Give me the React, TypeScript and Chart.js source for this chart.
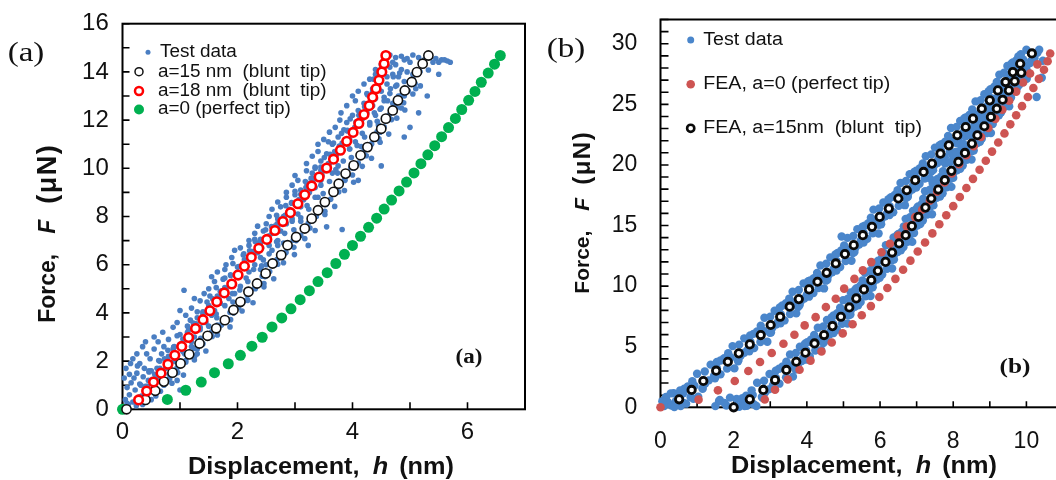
import React, { useEffect, useRef } from "react";
import { Chart, registerables } from "chart.js";

Chart.register(...registerables);

const FONT = "'Liberation Sans', Arial, Helvetica, sans-serif";
const SERIF = "'Liberation Serif', 'Times New Roman', serif";

// ---------------- Panel (a) ----------------
const xTickLabelsA = [0, 2, 4, 6];
const yTickLabelsA = [0, 2, 4, 6, 8, 10, 12, 14, 16];

const testDataA: number[][] = [
  [0.02,0.1],[0.05,0.4],[0.08,0.9],[0.03,1.3],[0.06,1.7],[0.12,0.6],[0.15,1.1],[0.18,0.3],[0.22,0.8],[0.25,1.5],[0.28,0.5],[0.1,0.2],[0.32,1.0],[0.35,0.2],[0.4,0.7],[0.14,1.9],[0.2,1.3],[0.45,1.2],[0.5,0.4],[0.38,1.7],[0.55,0.9],
  [0.3,1.9],[0.42,2.3],[0.5,1.6],[0.6,1.3],[0.65,2.0],[0.7,1.1],[0.55,2.5],[0.75,1.7],[0.8,2.2],[0.62,2.8],[0.85,1.4],[0.9,2.0],[0.48,2.1],[0.72,2.6],[0.95,1.2],[1.0,0.8],[0.35,2.6],
  [0.08,0.25],[0.12,1.45],[0.18,2.1],[0.24,0.15],[0.26,1.8],[0.33,0.55],[0.36,1.35],[0.43,0.95],[0.46,1.6],[0.52,1.25],[0.58,0.55],[0.6,1.7],[0.66,0.75],[0.68,2.3],[0.78,1.2],[0.82,1.95],[0.88,2.5],[0.25,2.3],[0.4,2.8],[0.55,3.0],
  [0.8,2.9],[0.9,2.6],[1.0,3.1],[1.05,2.4],[1.1,2.9],[0.88,3.4],[1.15,3.3],[1.2,2.6],[0.95,3.6],[1.25,3.0],[1.3,2.3],[0.7,3.2],[1.18,3.7],[1.35,3.4],
  [1.1,3.9],[1.2,4.2],[1.3,3.8],[1.35,4.5],[1.4,4.0],[1.45,3.6],[1.5,4.3],[1.55,3.9],[1.25,4.6],[1.6,4.1],[1.42,4.8],[1.65,3.5],[1.0,4.1],[1.7,4.4],[1.52,4.7],[1.07,4.94],
  [1.5,5.0],[1.6,5.3],[1.7,4.9],[1.75,5.4],[1.8,5.0],[1.85,4.6],[1.65,5.7],[1.9,5.3],[1.95,4.8],[1.78,5.8],[2.0,5.6],[2.05,5.1],[1.55,5.5],[2.1,4.5],
  [1.8,6.0],[1.9,6.3],[2.0,5.9],[2.1,6.4],[2.15,6.0],[2.2,5.7],[2.25,6.3],[2.05,6.7],[2.3,6.0],[2.35,6.5],[2.4,5.8],[2.45,6.2],[2.2,6.8],[1.95,6.6],[2.5,6.0],[2.31,6.95],
  [2.2,7.0],[2.3,7.3],[2.4,6.9],[2.45,7.4],[2.5,7.1],[2.55,6.8],[2.6,7.3],[2.5,7.7],[2.65,7.6],[2.7,7.0],[2.35,7.6],[2.75,7.4],[2.6,6.6],[2.8,6.9],[3.23,6.8],
  [2.55,8.0],[2.6,8.3],[2.7,7.9],[2.75,8.4],[2.8,8.0],[2.85,7.7],[2.9,8.3],[2.95,7.9],[2.7,8.6],[3.0,8.5],[3.05,8.1],[2.85,8.8],[3.1,7.8],[3.55,7.57],[3.82,7.46],
  [2.85,9.0],[2.95,9.3],[3.0,8.9],[3.05,9.5],[3.1,9.1],[3.15,8.7],[3.2,9.4],[3.25,9.0],[3.0,9.7],[3.3,9.6],[3.35,9.2],[3.4,8.8],[3.2,9.9],[3.45,9.5],[3.1,8.4],
  [3.2,10.2],[3.3,10.5],[3.35,10.0],[3.4,10.7],[3.45,10.3],[3.5,9.9],[3.55,10.6],[3.6,10.2],[3.65,9.8],[3.4,11.0],[3.7,10.5],[3.75,10.1],[3.3,9.8],[3.8,10.8],[3.58,11.1],[4.5,10.1],[4.1,9.5],
  [3.5,11.2],[3.6,11.5],[3.65,11.0],[3.7,11.7],[3.75,11.3],[3.8,10.9],[3.85,11.6],[3.9,11.2],[3.95,10.8],[4.0,11.5],[4.05,11.1],[3.78,12.0],[4.1,11.8],[4.15,10.9],[3.9,11.9],
  [3.8,12.3],[3.9,12.6],[4.0,12.2],[4.05,12.8],[4.1,12.4],[4.15,12.0],[4.2,12.7],[4.25,12.3],[4.3,11.9],[4.35,12.6],[4.0,13.0],[4.4,12.2],[4.45,11.8],[4.5,12.5],[4.6,12.0],
  [4.1,13.2],[4.2,13.5],[4.25,13.1],[4.3,13.7],[4.35,13.3],[4.4,12.9],[4.45,13.6],[4.5,13.2],[4.55,12.8],[4.6,13.5],[4.65,13.1],[4.7,12.7],[4.75,13.4],[4.8,13.0],[4.4,13.9],[4.85,12.5],
  [4.4,14.1],[4.5,14.3],[4.55,14.0],[4.6,13.8],[4.65,14.2],[4.7,13.9],[4.75,14.3],[4.8,13.8],[4.85,14.1],[4.9,13.6],[4.95,14.0],[5.0,13.5],[5.05,13.9],[5.1,13.3],[4.7,14.4],
  [4.55,14.6],[4.65,14.7],[4.75,14.6],[4.85,14.65],[4.95,14.55],[5.05,14.7],[5.15,14.6],[5.25,14.5],[5.35,14.6],[5.45,14.55],[5.55,14.5],[5.65,14.45],[5.7,14.4],[5.0,14.4],[5.2,14.35],[5.4,14.4],[5.6,14.5],[4.9,14.5],[5.3,14.7],[5.5,14.4],
  [5.0,11.7],[4.9,11.3],[5.15,12.3],[5.5,13.9],[5.3,13.0],
  [0.53,1.2],[0.68,1.3],[0.82,1.27],[0.66,1.55],[0.81,1.45],[0.96,1.52],[0.65,1.7],[0.81,1.8],[0.95,1.72],
  [0.78,2.05],[0.94,1.95],[1.1,2.02],[0.91,2.2],[1.08,2.3],[1.26,2.22],[0.89,2.55],[1.05,2.45],[1.25,2.52],
  [1.0,2.7],[1.2,2.8],[1.4,2.72],[1.16,3.05],[1.36,2.95],[1.56,3.02],[1.13,3.2],[1.35,3.3],[1.55,3.22],
  [1.28,3.55],[1.5,3.45],[1.72,3.52],[1.42,3.7],[1.64,3.8],[1.88,3.72],[1.4,4.05],[1.63,3.95],[1.87,4.02],
  [1.52,4.2],[1.78,4.3],[2.02,4.22],[1.68,4.55],[1.92,4.45],[2.18,4.52],[1.65,4.7],[1.91,4.8],[2.17,4.72],
  [1.78,5.05],[2.04,4.95],[2.3,5.02],[1.91,5.2],[2.18,5.3],[2.46,5.22],[1.88,5.55],[2.15,5.45],[2.43,5.52],
  [2.0,5.7],[2.28,5.8],[2.56,5.72],[2.14,6.05],[2.42,5.95],[2.7,6.02],[2.12,6.2],[2.4,6.3],[2.69,6.22],
  [2.26,6.55],[2.55,6.45],[2.84,6.52],[2.42,6.7],[2.7,6.8],[2.98,6.72],[2.4,7.05],[2.68,6.95],[2.97,7.02],
  [2.55,7.2],[2.82,7.3],[3.1,7.22],[2.7,7.55],[2.98,7.45],[3.26,7.52],[2.69,7.7],[2.95,7.8],[3.23,7.72],
  [2.83,8.05],[3.1,7.95],[3.37,8.02],[2.96,8.2],[3.24,8.3],[3.52,8.22],[2.94,8.55],[3.21,8.45],[3.49,8.52],
  [3.07,8.7],[3.35,8.8],[3.62,8.72],[3.21,9.05],[3.49,8.95],[3.76,9.02],[3.19,9.2],[3.45,9.3],[3.73,9.22],
  [3.33,9.55],[3.6,9.45],[3.86,9.52],[3.47,9.7],[3.74,9.8],[4.0,9.72],[3.45,10.05],[3.71,9.95],[3.97,10.02],
  [3.58,10.2],[3.84,10.3],[4.1,10.22],[3.72,10.55],[3.98,10.45],[4.24,10.52],[3.69,10.7],[3.95,10.8],[4.2,10.72],
  [3.82,11.05],[4.08,10.95],[4.33,11.02],[3.95,11.2],[4.21,11.3],[4.46,11.22],[3.91,11.55],[4.17,11.45],[4.43,11.52],
  [4.04,11.7],[4.3,11.8],[4.55,11.72],[4.17,12.05],[4.43,11.95],[4.68,12.02],[4.11,12.2],[4.38,12.3],[4.64,12.22],
  [4.21,12.55],[4.48,12.45],[4.76,12.52],[4.32,12.7],[4.61,12.8],[4.89,12.72],[4.26,13.05],[4.55,12.95],[4.85,13.02],
  [4.35,13.2],[4.66,13.3],[4.97,13.22],[4.45,13.55],[4.77,13.45],[5.09,13.52],[4.37,13.7],[4.71,13.8],[5.05,13.72],
  [4.46,14.05],[4.82,13.95],[5.17,14.02],
  [0.3,1.05],[0.4,0.95],[0.72,1.0],[0.86,1.08],[0.46,1.55],[0.56,1.45],[0.92,1.5],[1.06,1.42],
  [0.63,2.02],[0.73,2.1],[1.1,1.95],[1.25,2.05],[0.79,2.45],[0.89,2.58],[1.3,2.5],[1.45,2.42],
  [0.95,3.05],[1.05,2.92],[1.5,3.0],[1.65,3.08],[1.13,3.45],[1.23,3.58],[1.72,3.5],[1.87,3.42],
  [1.3,4.05],[1.4,3.92],[1.93,4.0],[2.08,4.08],[1.47,4.45],[1.57,4.58],[2.12,4.5],[2.27,4.42],
  [1.63,5.05],[1.73,4.92],[2.31,5.0],[2.46,5.08],[1.78,5.45],[1.88,5.58],[2.48,5.5],[2.63,5.42],
  [1.92,6.05],[2.02,5.92],[2.65,6.0],[2.8,6.08],[2.11,6.45],[2.21,6.58],[2.84,6.5],[2.99,6.42],
  [2.3,7.05],[2.4,6.92],[3.02,7.0],[3.17,7.08],[2.49,7.45],[2.59,7.58],[3.2,7.5],[3.35,7.42],
  [2.68,8.05],[2.78,7.92],[3.37,8.0],[3.52,8.08],[2.84,8.45],[2.94,8.58],[3.54,8.5],[3.69,8.42],
  [3.0,9.05],[3.1,8.92],[3.71,9.0],[3.86,9.08],[3.18,9.45],[3.28,9.58],[3.87,9.5],[4.02,9.42],
  [3.35,10.05],[3.45,9.92],[4.02,10.0],[4.17,10.08],[3.51,10.45],[3.61,10.58],[4.18,10.5],[4.33,10.42],
  [3.67,11.05],[3.77,10.92],[4.33,11.0],[4.48,11.08],[3.81,11.45],[3.91,11.58],[4.48,11.5],[4.63,11.42],
  [3.96,12.05],[4.06,11.92],[4.62,12.0],[4.77,12.08],[4.76,12.5],[4.91,12.42],
  [4.9,13.0],[5.05,13.08],[5.03,13.5],[5.18,13.42],[5.17,14.0],[5.32,14.08]
];

const blunt15A: number[][] = [
  [0.07,0],[0.4,0.39],[0.57,0.77],[0.72,1.15],[0.87,1.52],[1.01,1.9],[1.16,2.28],[1.34,2.73],[1.48,3.05],[1.63,3.36],[1.78,3.7],[1.93,4.12],[2.05,4.46],[2.19,4.88],[2.34,5.22],[2.49,5.64],[2.61,6.05],[2.76,6.4],[2.87,6.81],[3.02,7.15],[3.17,7.5],[3.29,7.91],[3.4,8.26],[3.52,8.6],[3.67,9.02],[3.76,9.36],[3.88,9.78],[4.02,10.12],[4.14,10.54],[4.26,10.88],[4.38,11.3],[4.5,11.64],[4.58,12.06],[4.7,12.4],[4.79,12.82],[4.91,13.23],[5.03,13.58],[5.12,13.99],[5.22,14.34],[5.32,14.68]
];

const blunt18A: number[][] = [
  [0.28,0.39],[0.42,0.76],[0.54,1.13],[0.67,1.5],[0.79,1.87],[0.91,2.24],[1.03,2.61],[1.15,2.98],[1.27,3.35],[1.4,3.72],[1.52,4.09],[1.64,4.46],[1.77,4.83],[1.9,5.2],[2.01,5.57],[2.12,5.94],[2.24,6.31],[2.37,6.68],[2.51,7.05],[2.65,7.42],[2.79,7.79],[2.92,8.16],[3.05,8.53],[3.17,8.9],[3.29,9.27],[3.42,9.64],[3.55,10.01],[3.67,10.38],[3.79,10.75],[3.9,11.12],[4.01,11.49],[4.11,11.86],[4.2,12.23],[4.29,12.6],[4.35,12.95],[4.41,13.3],[4.46,13.65],[4.51,14.0],[4.55,14.34],[4.58,14.68]
];

const perfectTipA: number[][] = [
  [0,0],[0.78,0.41],[1.1,0.79],[1.37,1.13],[1.6,1.52],[1.84,1.89],[2.05,2.24],[2.25,2.62],[2.43,2.99],[2.6,3.42],[2.77,3.79],[2.93,4.17],[3.09,4.55],[3.25,4.92],[3.4,5.3],[3.56,5.67],[3.71,6.05],[3.86,6.43],[4.0,6.8],[4.14,7.18],[4.28,7.55],[4.42,7.93],[4.55,8.31],[4.68,8.68],[4.81,9.06],[4.94,9.43],[5.07,9.81],[5.19,10.19],[5.31,10.56],[5.43,10.94],[5.55,11.31],[5.67,11.69],[5.79,12.07],[5.9,12.44],[6.02,12.82],[6.13,13.19],[6.24,13.57],[6.36,13.95],[6.47,14.32],[6.57,14.68]
];

// ---------------- Panel (b) ----------------
const xTickLabelsB = [0, 2, 4, 6, 8, 10];
const yTickLabelsB = [0, 5, 10, 15, 20, 25, 30];

const testLoadingB: number[][] = [
  [0.36,1.16],[0.63,0.36],[0.53,0.86],[0.45,0.21],[1.03,0.88],[0.75,1.73],[0.93,1.78],[0.65,1.53],
  [1.22,1.97],[1.0,2.77],[1.32,2.22],[1.15,1.52],[1.37,3.52],[1.64,2.72],[1.54,3.22],[1.46,2.57],
  [2.02,3.21],[1.74,4.06],[1.92,4.11],[1.64,3.86],[2.19,4.25],[1.97,5.05],[2.29,4.5],[2.12,3.8],
  [2.29,5.69],[2.56,4.89],[2.46,5.39],[2.38,4.74],[2.92,5.41],[2.64,6.26],[2.82,6.31],[2.54,6.06],
  [3.06,6.59],[2.84,7.39],[3.16,6.84],[2.99,6.14],[3.12,7.97],[3.39,7.17],[3.29,7.67],[3.21,7.02],
  [3.71,7.75],[3.43,8.6],[3.61,8.65],[3.33,8.4],[3.83,8.73],[3.61,9.53],[3.93,8.98],[3.76,8.28],
  [3.91,10.23],[4.18,9.43],[4.08,9.93],[4.0,9.28],[4.47,9.81],[4.19,10.66],[4.37,10.71],[4.09,10.46],
  [4.59,10.9],[4.37,11.7],[4.69,11.15],[4.52,10.45],[4.64,12.37],[4.91,11.57],[4.81,12.07],[4.73,11.42],
  [5.22,12.09],[4.94,12.94],[5.12,12.99],[4.84,12.74],[5.33,13.18],[5.11,13.98],[5.43,13.43],[5.26,12.73],
  [5.38,14.7],[5.65,13.9],[5.55,14.4],[5.47,13.75],[5.96,14.34],[5.68,15.19],[5.86,15.24],[5.58,14.99],
  [6.04,15.51],[5.82,16.31],[6.14,15.76],[5.97,15.06],[6.09,16.9],[6.36,16.1],[6.26,16.6],[6.18,15.95],
  [6.68,16.68],[6.4,17.53],[6.58,17.58],[6.3,17.33],[6.78,17.71],[6.56,18.51],[6.88,17.96],[6.71,17.26],
  [6.81,19.24],[7.08,18.44],[6.98,18.94],[6.9,18.29],[7.37,18.87],[7.09,19.72],[7.27,19.77],[6.99,19.52],
  [7.47,19.91],[7.25,20.71],[7.57,20.16],[7.4,19.46],[7.5,21.43],[7.77,20.63],[7.67,21.13],[7.59,20.48],
  [8.06,21.07],[7.78,21.92],[7.96,21.97],[7.68,21.72],[8.16,22.25],[7.94,23.05],[8.26,22.5],[8.09,21.8],
  [8.19,23.63],[8.46,22.83],[8.36,23.33],[8.28,22.68],[8.72,23.27],[8.44,24.12],[8.62,24.17],[8.34,23.92],
  [8.83,24.44],[8.61,25.24],[8.93,24.69],[8.76,23.99],[8.85,25.83],[9.12,25.03],[9.02,25.53],[8.94,24.88],
  [9.4,25.6],[9.12,26.45],[9.3,26.5],[9.02,26.25],[9.48,26.64],[9.26,27.44],[9.58,26.89],[9.41,26.19],
  [9.48,28.16],[9.75,27.36],[9.65,27.86],[9.57,27.21],[10.01,27.8],[9.73,28.65],[9.91,28.7],[9.63,28.45],
  [10.2,29.0],[10.0,29.5],[10.3,29.25],[10.13,28.55],
  [0.82,0.85],[0.54,1.4],[1.15,1.6],[0.87,2.15],[1.49,2.4],[1.21,2.95],[1.82,3.19],[1.54,3.74],[2.13,3.91],[1.85,4.46],
  [2.43,4.62],[2.15,5.17],[2.73,5.38],[2.45,5.93],[3.02,6.18],[2.74,6.73],[3.28,6.93],[3.0,7.48],[3.54,7.69],[3.26,8.24],
  [3.8,8.42],[3.52,8.97],[4.06,9.13],[3.78,9.68],[4.32,9.85],[4.04,10.4],[4.56,10.53],[4.28,11.08],[4.81,11.29],[4.53,11.84],
  [5.06,12.06],[4.78,12.61],[5.3,12.81],[5.02,13.36],[5.55,13.59],[5.27,14.14],[5.8,14.35],[5.52,14.9],[6.03,15.1],[5.75,15.65],
  [6.26,15.86],[5.98,16.41],[6.51,16.62],[6.23,17.17],[6.76,17.37],[6.48,17.92],[6.99,18.13],[6.71,18.68],[7.22,18.88],[6.94,19.43],
  [7.45,19.57],[7.17,20.12],[7.68,20.32],[7.4,20.87],[7.91,21.08],[7.63,21.63],[8.14,21.84],[7.86,22.39],[8.37,22.59],[8.09,23.14],
  [8.58,23.28],[8.3,23.83],[8.8,24.03],[8.52,24.58],[9.03,24.79],[8.75,25.34],[9.25,25.54],[8.97,26.09],[9.47,26.3],[9.19,26.85],
  [9.67,27.05],[9.39,27.6],[9.87,27.81],[9.59,28.36],[10.13,28.58],[9.85,29.13]
];

const testUnloadingB: number[][] = [
  [1.8,0.15],[2.15,0.05],[1.6,0.5],[2.25,0.35],[2.62,0.11],[2.34,0.96],[2.52,1.01],[2.24,0.76],
  [2.86,1.23],[2.64,2.03],[2.96,1.48],[2.79,0.78],[2.98,2.75],[3.25,1.95],[3.15,2.45],[3.07,1.8],
  [3.62,2.53],[3.34,3.38],[3.52,3.43],[3.24,3.18],[3.76,3.56],[3.54,4.36],[3.86,3.81],[3.69,3.11],
  [3.81,5.0],[4.08,4.2],[3.98,4.7],[3.9,4.05],[4.39,4.72],[4.11,5.57],[4.29,5.62],[4.01,5.37],
  [4.52,5.76],[4.3,6.56],[4.62,6.01],[4.45,5.31],[4.55,7.2],[4.82,6.4],[4.72,6.9],[4.64,6.25],
  [5.11,6.92],[4.83,7.77],[5.01,7.82],[4.73,7.57],[5.21,8.04],[4.99,8.84],[5.31,8.29],[5.14,7.59],
  [5.2,9.48],[5.47,8.68],[5.37,9.18],[5.29,8.53],[5.74,9.18],[5.46,10.03],[5.64,10.08],[5.36,9.83],
  [5.81,10.29],[5.59,11.09],[5.91,10.54],[5.74,9.84],[5.79,11.76],[6.06,10.96],[5.96,11.46],[5.88,10.81],
  [6.33,11.45],[6.05,12.3],[6.23,12.35],[5.95,12.1],[6.38,12.57],[6.16,13.37],[6.48,12.82],[6.31,12.12],
  [6.37,14.02],[6.64,13.22],[6.54,13.72],[6.46,13.07],[6.88,13.65],[6.6,14.5],[6.78,14.55],[6.5,14.3],
  [6.92,14.75],[6.7,15.55],[7.02,15.0],[6.85,14.3],[6.9,16.21],[7.17,15.41],[7.07,15.91],[6.99,15.26],
  [7.42,15.93],[7.14,16.78],[7.32,16.83],[7.04,16.58],[7.45,17.03],[7.23,17.83],[7.55,17.28],[7.38,16.58],
  [7.44,18.47],[7.71,17.67],[7.61,18.17],[7.53,17.52],[7.95,18.19],[7.67,19.04],[7.85,19.09],[7.57,18.84],
  [8.0,19.31],[7.78,20.11],[8.1,19.56],[7.93,18.86],[7.99,20.75],[8.26,19.95],[8.16,20.45],[8.08,19.8],
  [8.5,20.44],[8.22,21.29],[8.4,21.34],[8.12,21.09],[8.56,21.56],[8.34,22.36],[8.66,21.81],[8.49,21.11],
  [8.51,22.95],[8.78,22.15],[8.68,22.65],[8.6,22.0],[9.03,22.64],[8.75,23.49],[8.93,23.54],[8.65,23.29],
  [9.08,23.76],[8.86,24.56],[9.18,24.01],[9.01,23.31],[9.04,25.14],[9.31,24.34],[9.21,24.84],[9.13,24.19],
  [9.53,24.83],[9.25,25.68],[9.43,25.73],[9.15,25.48],[9.57,25.95],[9.35,26.75],[9.67,26.2],[9.5,25.5],
  [9.53,27.4],[9.8,26.6],[9.7,27.1],[9.62,26.45],[10.01,27.11],[9.73,27.96],[9.91,28.01],[9.63,27.76],
  [10.0,28.15],[9.78,28.95],[10.1,28.4],[9.93,27.7],
  [2.36,0.13],[2.08,0.68],[2.77,0.85],[2.49,1.4],[3.11,1.64],[2.83,2.19],[3.43,2.47],[3.15,3.02],[3.72,3.22],[3.44,3.77],
  [3.98,3.93],[3.7,4.48],[4.23,4.69],[3.95,5.24],[4.48,5.42],[4.2,5.97],[4.73,6.13],[4.45,6.68],[4.96,6.89],[4.68,7.44],
  [5.19,7.66],[4.91,8.21],[5.4,8.41],[5.12,8.96],[5.6,9.16],[5.32,9.71],[5.8,9.91],[5.52,10.46],[5.99,10.68],[5.71,11.23],
  [6.19,11.43],[5.91,11.98],[6.38,12.19],[6.1,12.74],[6.57,12.95],[6.29,13.5],[6.75,13.66],[6.47,14.21],[6.93,14.38],[6.65,14.93],
  [7.1,15.13],[6.82,15.68],[7.29,15.9],[7.01,16.45],[7.46,16.66],[7.18,17.21],[7.64,17.4],[7.36,17.95],[7.82,18.16],[7.54,18.71],
  [8.0,18.93],[7.72,19.48],[8.19,19.68],[7.91,20.23],[8.37,20.42],[8.09,20.97],[8.56,21.18],[8.28,21.73],[8.73,21.91],[8.45,22.46],
  [8.9,22.62],[8.62,23.17],[9.08,23.38],[8.8,23.93],[9.25,24.1],[8.97,24.65],[9.41,24.81],[9.13,25.36],[9.58,25.57],[9.3,26.12],
  [9.74,26.33],[9.46,26.88],[9.9,27.08],[9.62,27.63]
];

const testExtraB: number[][] = [
  [0.1,0.1],[0.2,0.45],[0.3,0.15],[0.15,0.85],[0.42,0.5],[0.28,1.15],[0.55,0.1],[0.7,0.3],[0.05,0.5],[0.38,0.02],[0.62,1.15],[0.9,0.7],
  [1.5,0.1],[1.62,0.6],[1.75,0.35],[1.9,0.8],[2.3,0.1],[2.55,0.25],
  [10.28,25.6],[10.42,27.2],[10.45,28.6],[10.35,29.5],[10.22,28.8],[4.95,14.1]
];

const blunt15B: number[][] = [
  [0.51,0.66],[0.85,1.43],[1.17,2.17],[1.52,3.02],[1.84,3.76],[2.14,4.45],[2.44,5.19],[2.74,5.96],[3.01,6.79],[3.27,7.47],[3.53,8.3],[3.78,8.93],[4.06,9.73],[4.29,10.36],[4.54,11.1],[4.79,11.87],[5.04,12.64],[5.28,13.38],[5.53,14.2],[5.78,14.89],[5.99,15.71],[6.24,16.4],[6.5,17.23],[6.73,17.91],[6.96,18.74],[7.19,19.42],[7.42,20.11],[7.65,20.93],[7.88,21.62],[8.11,22.45],[8.34,23.13],[8.54,23.82],[8.78,24.64],[9.0,25.33],[9.22,26.15],[9.43,26.84],[9.63,27.66],[9.83,28.35],[10.15,29.2],
  [2.0,0],[2.44,0.66],[2.81,1.43],[3.13,2.25],[3.44,3.08],[3.71,3.76],[3.96,4.5],[4.21,5.27],[4.47,5.96],[4.7,6.7],[4.93,7.47],[5.16,8.24],[5.35,8.98],[5.56,9.73],[5.76,10.49],[5.94,11.26],[6.15,12.0],[6.33,12.77],[6.52,13.52],[6.7,14.2],[6.87,14.95],[7.05,15.71],[7.24,16.48],[7.4,17.23],[7.59,17.97],[7.77,18.74],[7.95,19.51],[8.14,20.25],[8.32,20.99],[8.51,21.76],[8.66,22.45],[8.85,23.19],[9.03,23.96],[9.19,24.64],[9.35,25.38],[9.52,26.15],[9.68,26.9],[9.86,27.6]
];

const perfectTipB: number[][] = [
  [0,0],[1.04,0.63],[1.57,1.4],[2.03,2.17],[2.4,3.0],[2.72,3.74],[3.04,4.48],[3.36,5.25],[3.66,5.99],[3.94,6.76],[4.24,7.44],[4.52,8.27],[4.79,8.96],[5.02,9.79],[5.3,10.6],[5.53,11.3],[5.76,11.98],[6.04,12.8],[6.27,13.5],[6.5,14.18],[6.73,14.92],[6.96,15.69],[7.15,16.3],[7.36,17.05],[7.56,17.8],[7.76,18.55],[7.96,19.3],[8.16,20.05],[8.36,20.8],[8.56,21.55],[8.76,22.3],[8.96,23.05],[9.15,23.8],[9.34,24.55],[9.53,25.3],[9.72,26.05],[9.91,26.8],[10.1,27.55],[10.3,28.3],[10.65,29.2],
  [2.85,0.65],[3.13,1.45],[3.48,2.3],[3.8,3.1],[4.1,3.85],[4.4,4.6],[4.68,5.35],[4.98,6.1],[5.25,6.85],[5.5,7.6],[5.75,8.35],[5.98,9.1],[6.2,9.85],[6.42,10.6],[6.63,11.35],[6.83,12.1],[7.03,12.85],[7.23,13.6],[7.43,14.35],[7.62,15.1],[7.81,15.85],[8.0,16.6],[8.18,17.35],[8.36,18.1],[8.54,18.85],[8.72,19.6],[8.89,20.35],[9.06,21.1],[9.23,21.85],[9.4,22.6],[9.56,23.35],[9.72,24.1],[9.88,24.85],[10.04,25.6],[10.19,26.35],[10.34,27.1],[10.48,27.85],[10.58,28.55]
];

// ---------------- helpers ----------------
const toXY = (arr: number[][]) => arr.map(([x, y]) => ({ x, y }));

type Seg = { t?: string; font?: string; gap?: number; ls?: number };

function segWidth(ctx: CanvasRenderingContext2D, s: Seg) {
  if (!s.t) return s.gap || 0;
  ctx.font = s.font as string;
  if (!s.ls) return ctx.measureText(s.t).width;
  let w = 0;
  for (const ch of s.t) w += ctx.measureText(ch).width;
  return w + s.ls * (Array.from(s.t).length - 1);
}

function drawRich(ctx: CanvasRenderingContext2D, segs: Seg[], cx: number, cy: number, rot: number, sx: number) {
  ctx.save();
  ctx.translate(cx, cy);
  ctx.rotate(rot);
  ctx.scale(sx, 1);
  ctx.fillStyle = "#111";
  ctx.textBaseline = "middle";
  ctx.textAlign = "left";
  const ws = segs.map((s) => segWidth(ctx, s));
  const total = ws.reduce((a, b) => a + b, 0);
  let x = -total / 2;
  segs.forEach((s, i) => {
    if (s.t) {
      ctx.font = s.font as string;
      if (s.ls) {
        for (const ch of s.t) {
          ctx.fillText(ch, x, 0);
          x += ctx.measureText(ch).width + s.ls;
        }
        x -= s.ls;
      } else {
        ctx.fillText(s.t, x, 0);
        x += ws[i];
      }
    } else {
      x += ws[i];
    }
  });
  ctx.restore();
}

type LegendItem = { label: string; ring: boolean; r: number; fill: string; stroke?: string; lw?: number; mx: number; y: number };

function drawText(ctx: CanvasRenderingContext2D, text: string, x: number, y: number, font: string, sx: number, align: CanvasTextAlign) {
  ctx.save();
  ctx.translate(x, y);
  ctx.scale(sx, 1);
  ctx.font = font;
  ctx.fillStyle = "#111";
  ctx.textAlign = align;
  ctx.textBaseline = "middle";
  ctx.fillText(text, 0, 0);
  ctx.restore();
}

function framePlugin(tickLenX: number, tickLenY: number) {
  return {
    id: "frame",
    beforeDatasetsDraw(chart: any) {
      const { ctx, chartArea: ca, scales } = chart;
      const xs = scales.x;
      const ys = scales.y;
      ctx.save();
      ctx.strokeStyle = "#000";
      ctx.lineWidth = 1.6;
      ctx.beginPath();
      xs.ticks.forEach((t: any) => {
        const p = xs.getPixelForValue(t.value);
        ctx.moveTo(p, ca.bottom);
        ctx.lineTo(p, ca.bottom - tickLenX);
      });
      ys.ticks.forEach((t: any) => {
        const p = ys.getPixelForValue(t.value);
        ctx.moveTo(ca.left, p);
        ctx.lineTo(ca.left + tickLenY, p);
      });
      ctx.stroke();
      ctx.lineWidth = 2;
      ctx.strokeRect(ca.left, ca.top, ca.right - ca.left, ca.bottom - ca.top);
      ctx.restore();
    },
  };
}

function decorPlugin(spec: {
  yTitle: Seg[]; yTitlePos: number[];
  xTitle: Seg[]; xTitlePos: number[]; xTitleSx: number;
  outer: string; outerPos: number[]; outerFont: string;
  inner: string; innerPos: number[]; innerFont: string;
  legend: LegendItem[]; legendTextX: number[]; legendFont: string; legendSx: number;
}) {
  return {
    id: "decor",
    afterDraw(chart: any) {
      const ctx: CanvasRenderingContext2D = chart.ctx;
      drawRich(ctx, spec.yTitle, spec.yTitlePos[0], spec.yTitlePos[1], -Math.PI / 2, 1);
      drawRich(ctx, spec.xTitle, spec.xTitlePos[0], spec.xTitlePos[1], 0, spec.xTitleSx);
      drawText(ctx, spec.outer, spec.outerPos[0], spec.outerPos[1], spec.outerFont, 1.18, "center");
      drawText(ctx, spec.inner, spec.innerPos[0], spec.innerPos[1], spec.innerFont, 1.15, "center");
      spec.legend.forEach((it, i) => {
        ctx.save();
        ctx.beginPath();
        ctx.arc(it.mx, it.y, it.r, 0, Math.PI * 2);
        ctx.fillStyle = it.fill;
        ctx.fill();
        if (it.ring) {
          ctx.strokeStyle = it.stroke as string;
          ctx.lineWidth = it.lw as number;
          ctx.stroke();
        }
        ctx.restore();
        drawText(ctx, it.label, spec.legendTextX[i], it.y, spec.legendFont, spec.legendSx, "left");
      });
    },
  };
}

function axisOpts(min: number, max: number, labels: number[], fontSize: number, padding: number, horizontal: boolean, size: number) {
  return {
    type: "linear",
    min,
    max,
    afterFit: (s: any) => {
      if (horizontal) s.height = size;
      else s.width = size;
      s.paddingLeft = 0;
      s.paddingRight = 0;
      s.paddingTop = 0;
      s.paddingBottom = 0;
    },
    grid: { display: false, drawTicks: false },
    border: { display: false },
    ticks: {
      stepSize: 1,
      autoSkip: false,
      maxRotation: 0,
      padding,
      color: "#111",
      font: { family: FONT, size: fontSize },
      callback: (v: number) => (labels.includes(v) ? String(v) : ""),
    },
  };
}

function configA(): any {
  return {
    type: "scatter",
    data: {
      datasets: [
        { label: "Test data", data: toXY(testDataA), pointRadius: 2.8, pointBackgroundColor: "#4A7EC2", pointBorderWidth: 0, order: 10, clip: false },
        { label: "a=0 (perfect tip)", data: toXY(perfectTipA), pointRadius: 5.5, pointBackgroundColor: "#00B050", pointBorderWidth: 0, order: 3, clip: false },
        { label: "a=15 nm (blunt tip)", data: toXY(blunt15A), pointRadius: 4.6, pointBackgroundColor: "#ffffff", pointBorderColor: "#111", pointBorderWidth: 1.6, order: 2, clip: false },
        { label: "a=18 nm (blunt tip)", data: toXY(blunt18A), pointRadius: 4.3, pointBackgroundColor: "#ffffff", pointBorderColor: "#FF0000", pointBorderWidth: 2.6, order: 1, clip: false },
      ],
    },
    options: {
      responsive: false,
      animation: false,
      devicePixelRatio: 1,
      events: [],
      layout: { padding: { left: 0, top: 23.7, right: 15, bottom: 0 } },
      plugins: { legend: { display: false }, tooltip: { enabled: false } },
      scales: {
        x: axisOpts(0, 7, xTickLabelsA, 24, 8.6, true, 70.7),
        y: axisOpts(0, 16, yTickLabelsA, 24, 13.7, false, 122.5),
      },
    },
    plugins: [
      framePlugin(7, 7),
      decorPlugin({
        yTitle: [
          { t: "Force,", font: `bold 23px ${FONT}` }, { gap: 20 },
          { t: "F", font: `italic bold 23px ${FONT}` }, { gap: 16 },
          { t: "(μN)", font: `bold 27px ${FONT}`, ls: 1.5 },
        ],
        yTitlePos: [49, 234],
        xTitle: [
          { t: "Displacement,", font: `bold 23px ${FONT}` }, { gap: 12 },
          { t: "h", font: `italic bold 23px ${FONT}` }, { gap: 10 },
          { t: "(nm)", font: `bold 23px ${FONT}` },
        ],
        xTitlePos: [321, 468],
        xTitleSx: 1.1,
        outer: "(a)", outerPos: [26, 54], outerFont: `28px ${SERIF}`,
        inner: "(a)", innerPos: [469, 357.5], innerFont: `bold 20px ${SERIF}`,
        legend: [
          { label: "Test data", ring: false, r: 2.5, fill: "#4A7EC2", mx: 148, y: 52.3 },
          { label: "a=15 nm  (blunt  tip)", ring: true, r: 4, fill: "#fff", stroke: "#111", lw: 1.5, mx: 139, y: 71.7 },
          { label: "a=18 nm  (blunt  tip)", ring: true, r: 4, fill: "#fff", stroke: "#FF0000", lw: 2.5, mx: 139, y: 91 },
          { label: "a=0 (perfect tip)", ring: false, r: 5, fill: "#00B050", mx: 139, y: 109.5 },
        ],
        legendTextX: [160, 158, 158, 158],
        legendFont: `17.5px ${FONT}`,
        legendSx: 1.08,
      }),
    ],
  };
}

function configB(): any {
  return {
    type: "scatter",
    data: {
      datasets: [
        { label: "Test data", data: toXY([...testLoadingB, ...testUnloadingB, ...testExtraB]), pointRadius: 4.2, pointBackgroundColor: "#4A86CB", pointBorderWidth: 0, order: 10, clip: false },
        { label: "FEA, a=0 (perfect tip)", data: toXY(perfectTipB), pointRadius: 4.3, pointBackgroundColor: "#CD5452", pointBorderWidth: 0, order: 2, clip: false },
        { label: "FEA, a=15nm (blunt tip)", data: toXY(blunt15B), pointRadius: 3.7, pointBackgroundColor: "#ffffff", pointBorderColor: "#0a0a0a", pointBorderWidth: 2.8, order: 1, clip: false },
      ],
    },
    options: {
      responsive: false,
      animation: false,
      devicePixelRatio: 1,
      events: [],
      layout: { padding: { left: 0, top: 19.5, right: 12, bottom: 0 } },
      plugins: { legend: { display: false }, tooltip: { enabled: false } },
      scales: {
        x: axisOpts(0, 11, xTickLabelsB, 23, 20.6, true, 72.7),
        y: axisOpts(0, 32, yTickLabelsB, 23, 23.2, false, 130.5),
      },
    },
    plugins: [
      framePlugin(6, 8),
      decorPlugin({
        yTitle: [
          { t: "Force,", font: `bold 21px ${FONT}` }, { gap: 20 },
          { t: "F", font: `italic bold 21px ${FONT}` }, { gap: 13 },
          { t: "(μN)", font: `bold 24px ${FONT}`, ls: 1.5 },
        ],
        yTitlePos: [53, 213],
        xTitle: [
          { t: "Displacement,", font: `bold 23px ${FONT}` }, { gap: 12 },
          { t: "h", font: `italic bold 23px ${FONT}` }, { gap: 10 },
          { t: "(nm)", font: `bold 23px ${FONT}` },
        ],
        xTitlePos: [334, 467],
        xTitleSx: 1.1,
        outer: "(b)", outerPos: [36, 50], outerFont: `28px ${SERIF}`,
        inner: "(b)", innerPos: [485, 367], innerFont: `bold 22px ${SERIF}`,
        legend: [
          { label: "Test data", ring: false, r: 3.5, fill: "#4A86CB", mx: 160.7, y: 40 },
          { label: "FEA, a=0 (perfect tip)", ring: false, r: 4.3, fill: "#CD5452", mx: 160.7, y: 84.3 },
          { label: "FEA, a=15nm  (blunt  tip)", ring: true, r: 3.6, fill: "#fff", stroke: "#0a0a0a", lw: 2.6, mx: 160.7, y: 128.3 },
        ],
        legendTextX: [173.3, 173.3, 173.3],
        legendFont: `18px ${FONT}`,
        legendSx: 1.09,
      }),
    ],
  };
}

export default function App() {
  const refA = useRef<HTMLCanvasElement>(null);
  const refB = useRef<HTMLCanvasElement>(null);
  useEffect(() => {
    const a = new Chart(refA.current as HTMLCanvasElement, configA());
    const b = new Chart(refB.current as HTMLCanvasElement, configB());
    return () => {
      a.destroy();
      b.destroy();
    };
  }, []);
  return (
    <div style={{ position: "fixed", left: 0, top: 0, width: 1056, height: 480, overflow: "hidden", background: "#fff" }}>
      <canvas ref={refA} width={540} height={480} style={{ position: "absolute", left: 0, top: 0 }} />
      <canvas ref={refB} width={545} height={480} style={{ position: "absolute", left: 530, top: 0 }} />
    </div>
  );
}
